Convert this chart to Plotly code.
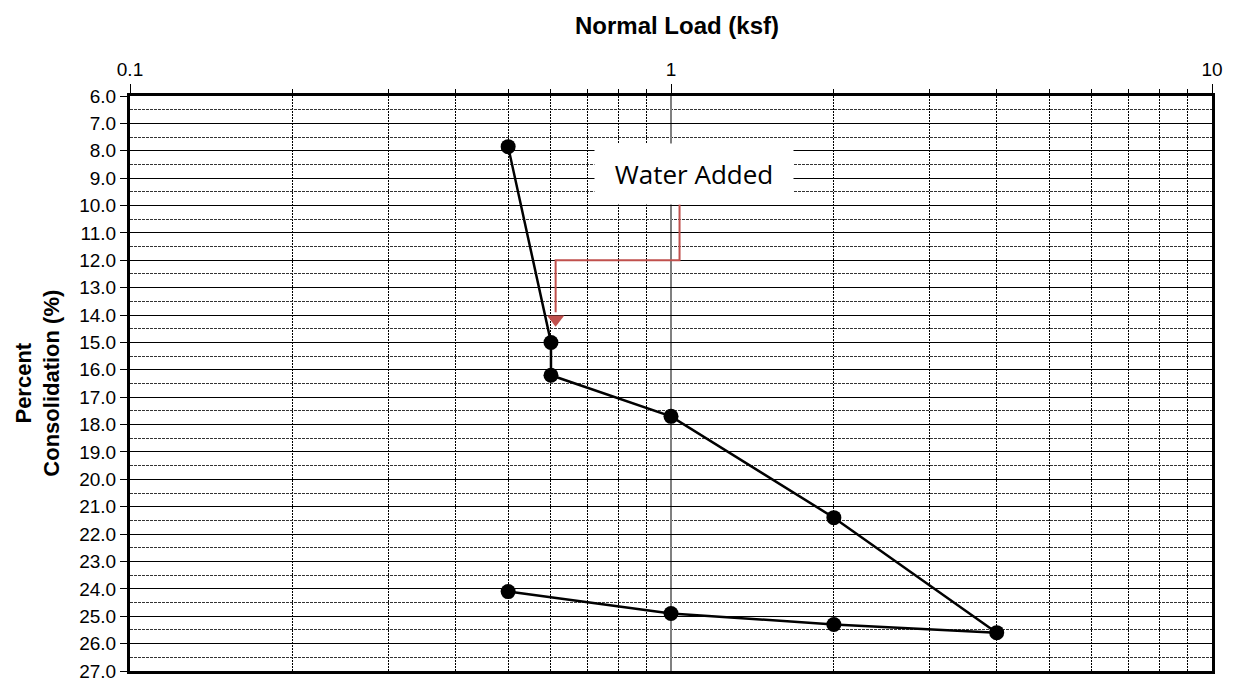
import plotly.graph_objects as go

# Consolidation test: load path (ksf) vs percent consolidation
normal_load = [0.5, 0.6, 0.6, 1.0, 2.0, 4.0, 2.0, 1.0, 0.5]
consolidation = [7.85, 15.0, 16.2, 17.7, 21.4, 25.6, 25.3, 24.9, 24.1]

# "Water Added" callout path (load, consolidation)
callout_x = [1.037, 1.037, 0.612, 0.612]
callout_y = [9.95, 12.0, 12.0, 13.9]
arrow_tip_x = [0.612]
arrow_tip_y = [14.15]

y_ticks = list(range(6, 28))
y_labels = [f"{v:.1f}" for v in y_ticks]
x_ticks = [0.1, 1, 10]
x_labels = ["0.1", "1", "10"]

RED = "#c0504d"
FONT = "Liberation Sans, Arial, sans-serif"

fig = go.Figure()

fig.add_trace(go.Scatter(
    x=callout_x, y=callout_y, mode="lines",
    line=dict(color=RED, width=2), hoverinfo="skip", showlegend=False,
))
fig.add_trace(go.Scatter(
    x=arrow_tip_x, y=arrow_tip_y, mode="markers",
    marker=dict(symbol="triangle-down", size=15, color=RED, line=dict(width=0)),
    hoverinfo="skip", showlegend=False,
))
fig.add_trace(go.Scatter(
    x=normal_load, y=consolidation, mode="lines+markers",
    line=dict(color="black", width=2.5),
    marker=dict(color="black", size=15),
    showlegend=False,
))

fig.update_xaxes(
    type="log", side="top", range=[-1, 1],
    tickvals=x_ticks, ticktext=x_labels,
    ticks="outside", ticklen=9, tickcolor="black", tickwidth=1,
    tickfont=dict(family=FONT, size=19, color="black"),
    showgrid=True, gridcolor="#808080", gridwidth=1.5,
    minor=dict(dtick="D1", showgrid=True, gridcolor="black", gridwidth=1,
               griddash="2px,1px", ticks="outside", ticklen=4, tickcolor="black"),
    showline=True, linecolor="black", linewidth=3, mirror=True,
    zeroline=False,
)
fig.update_yaxes(
    range=[27, 6], tickvals=y_ticks, ticktext=y_labels,
    ticks="outside", ticklen=7, tickcolor="black", tickwidth=1,
    tickfont=dict(family=FONT, size=19, color="black"),
    showgrid=True, gridcolor="black", gridwidth=1,
    minor=dict(dtick=0.5, showgrid=True, gridcolor="#333333", gridwidth=1,
               griddash="3px,1px"),
    showline=True, linecolor="black", linewidth=3, mirror=True,
    zeroline=False,
)

# Axis titles
fig.add_annotation(
    xref="paper", yref="paper", x=0.506, y=1.1229,
    text="<b>Normal Load (ksf)</b>", showarrow=False,
    font=dict(family=FONT, size=24, color="black"),
    xanchor="center", yanchor="middle",
)
fig.add_annotation(
    xref="paper", yref="paper", x=-0.059, y=0.5,
    text="<b>Percent<br>Consolidation (%)</b>", showarrow=False,
    textangle=-90, font=dict(family=FONT, size=22, color="black"),
    xanchor="right", yanchor="middle",
)

# Callout box
fig.add_annotation(
    xref="paper", yref="paper", x=0.5217, y=0.8635,
    text="Water Added", showarrow=False,
    font=dict(family="Open Sans, sans-serif", size=26, color="black"),
    bgcolor="white", width=196, height=58,
    xanchor="center", yanchor="middle",
)

fig.update_layout(
    width=1235, height=694,
    margin=dict(l=130, r=20, t=96, b=12),
    paper_bgcolor="white", plot_bgcolor="white",
)

fig.write_html("out.html")
